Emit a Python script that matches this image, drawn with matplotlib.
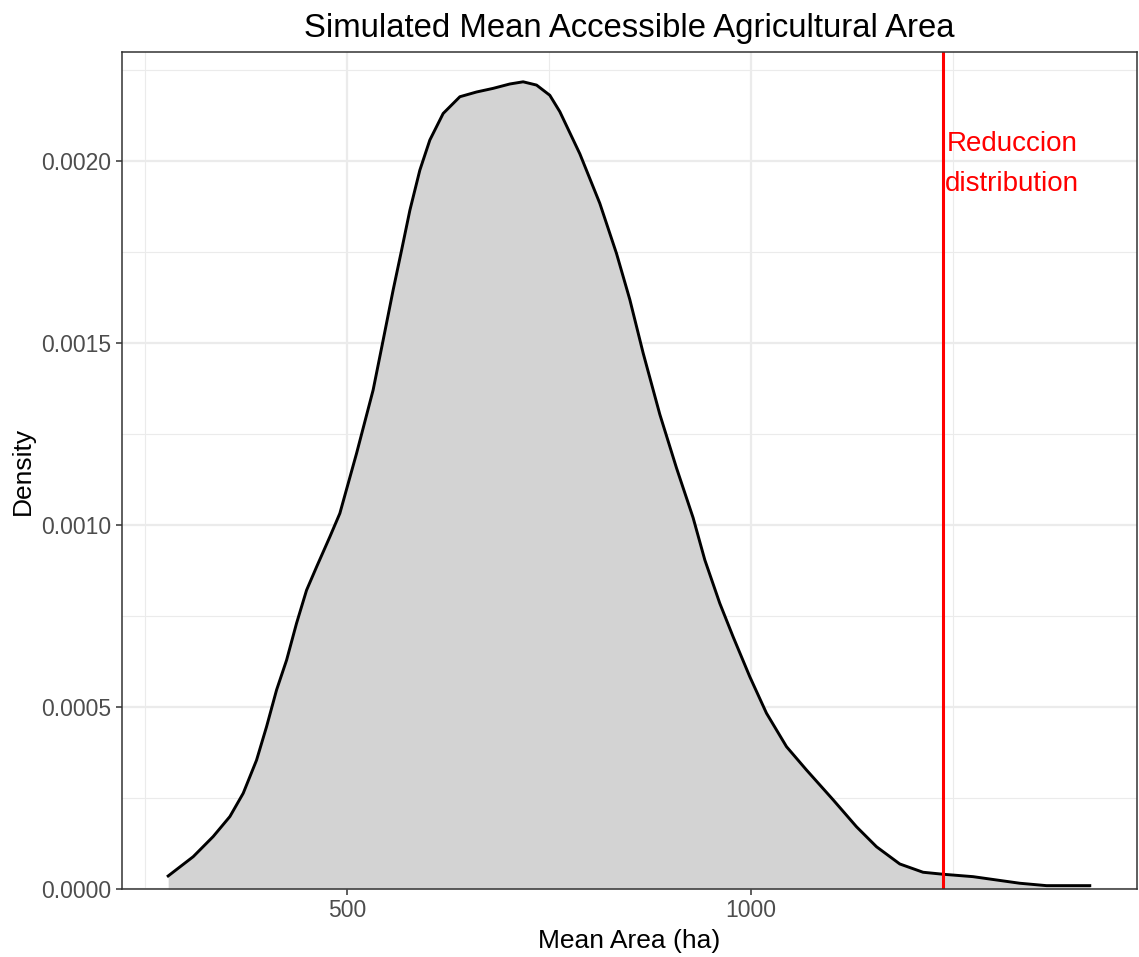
import matplotlib.pyplot as plt
from matplotlib.ticker import MultipleLocator, FormatStrFormatter

# density curve
area = [278.8, 309.8, 334.5, 355.2, 371.7, 388.2, 400.6, 413.0, 425.4, 437.7,
        450.1, 462.5, 479.0, 491.3, 512.0, 532.5, 544.9, 557.3, 567.7, 578.0,
        590.3, 602.7, 619.2, 639.9, 660.5, 681.1, 701.7, 718.2, 734.8, 751.2,
        763.6, 788.4, 813.1, 833.8, 850.2, 866.7, 887.4, 908.0, 928.6, 943.1,
        961.6, 978.1, 998.8, 1019.4, 1044.2, 1068.9, 1101.9, 1130.8, 1155.6, 1184.4,
        1213.2, 1238.0, 1275.1, 1304.1, 1332.9, 1366.0, 1419.6]
density = [0.0000357, 0.0000887, 0.000144, 0.000199, 0.000263, 0.000354, 0.000446,
           0.000547, 0.000629, 0.000730, 0.000821, 0.000885, 0.000968, 0.001032,
           0.001197, 0.001371, 0.001508, 0.001646, 0.001755, 0.001865, 0.001975,
           0.002058, 0.002131, 0.002177, 0.002190, 0.002200, 0.002212, 0.002218,
           0.002209, 0.002181, 0.002136, 0.002020, 0.001884, 0.001746, 0.001620,
           0.001473, 0.001304, 0.001157, 0.001020, 0.000904, 0.000785, 0.000693,
           0.000583, 0.000483, 0.000391, 0.000327, 0.000245, 0.000171, 0.000116,
           0.0000687, 0.0000459, 0.0000404, 0.0000338, 0.0000247, 0.0000157,
           0.0000091, 0.0000091]
reduccion = 1237.6

plt.rcParams['font.family'] = ['Liberation Sans', 'DejaVu Sans']

fig = plt.figure(figsize=(11.39, 9.57), dpi=100)
ax = fig.add_axes([0.107, 0.0711, 0.891, 0.8746])

ax.fill_between(area, density, 0, color="lightgray", lw=0)
ax.plot(area, density, c="black", lw=2.1, solid_joinstyle="round")
ax.axvline(reduccion, color="red", lw=2.2)
ax.text(1323, 0.001992, "Reduccion\ndistribution", color="red", fontsize=20,
        ha="center", va="center", linespacing=1.7)

ax.set_xlim(221.5, 1477.7)
ax.set_ylim(0, 0.0023)
ax.xaxis.set_major_locator(MultipleLocator(500))
ax.xaxis.set_minor_locator(MultipleLocator(250))
ax.yaxis.set_major_locator(MultipleLocator(0.0005))
ax.yaxis.set_minor_locator(MultipleLocator(0.00025))
ax.yaxis.set_major_formatter(FormatStrFormatter("%.4f"))

ax.grid(which="major", color="#EBEBEB", lw=1.6)
ax.grid(which="minor", color="#EBEBEB", lw=0.8)
ax.set_axisbelow(True)
for s in ax.spines.values():
    s.set_color("#333333")
    s.set_linewidth(1.1)
ax.tick_params(which="major", length=4.5, width=1.1, color="#333333",
               labelcolor="#4D4D4D", labelsize=16.5, pad=3)
ax.tick_params(which="minor", length=0)

ax.set_xlabel("Mean Area (ha)", fontsize=19, labelpad=5)
ax.set_ylabel("Density", fontsize=19, labelpad=5)
ax.set_title("Simulated Mean Accessible Agricultural Area", fontsize=23.7, pad=11)

fig.savefig("out.png", dpi=100)
